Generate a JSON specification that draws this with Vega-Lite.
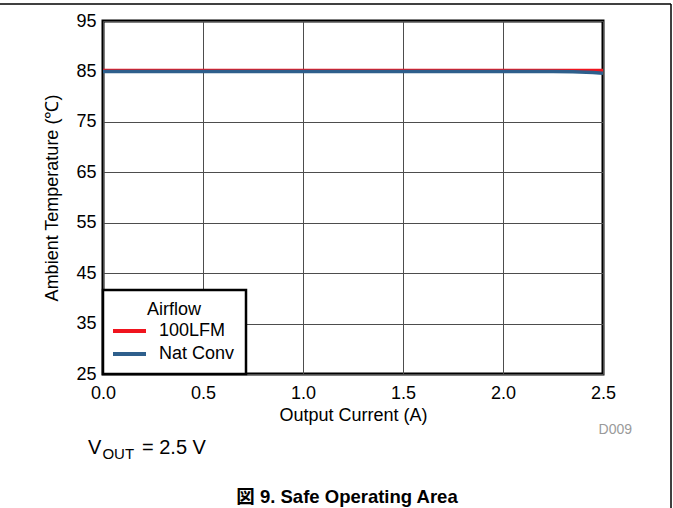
{
  "$schema": "https://vega.github.io/schema/vega-lite/v6.json",
  "width": 500,
  "height": 353,
  "autosize": {"type": "none"},
  "padding": {"left": 103, "top": 21, "right": 70, "bottom": 134},
  "background": "white",
  "config": {
    "font": "Liberation Sans",
    "view": {"stroke": "black", "strokeWidth": 3}
  },
  "datasets": {
    "curves": [
      {"current": 0.0, "temp": 85.2, "airflow": "100LFM"},
      {"current": 0.5, "temp": 85.2, "airflow": "100LFM"},
      {"current": 1.0, "temp": 85.2, "airflow": "100LFM"},
      {"current": 1.5, "temp": 85.2, "airflow": "100LFM"},
      {"current": 2.0, "temp": 85.2, "airflow": "100LFM"},
      {"current": 2.5, "temp": 85.2, "airflow": "100LFM"},
      {"current": 0.0, "temp": 85.0, "airflow": "Nat Conv"},
      {"current": 0.5, "temp": 85.0, "airflow": "Nat Conv"},
      {"current": 1.0, "temp": 85.0, "airflow": "Nat Conv"},
      {"current": 1.5, "temp": 85.0, "airflow": "Nat Conv"},
      {"current": 2.0, "temp": 85.0, "airflow": "Nat Conv"},
      {"current": 2.25, "temp": 85.0, "airflow": "Nat Conv"},
      {"current": 2.35, "temp": 84.95, "airflow": "Nat Conv"},
      {"current": 2.45, "temp": 84.8, "airflow": "Nat Conv"},
      {"current": 2.5, "temp": 84.65, "airflow": "Nat Conv"}
    ],
    "notes": [
      {"x": -0.075, "y": 9.14, "text": "V", "kind": "big"},
      {"x": -0.003, "y": 8.15, "text": "OUT", "kind": "sub"},
      {"x": 0.195, "y": 9.14, "text": "= 2.5 V", "kind": "big"}
    ],
    "tag": [
      {"x": 2.645, "y": 13.9, "text": "D009"}
    ],
    "caption": [
      {"x": 1.22, "y": -0.6, "text": "図 9. Safe Operating Area"}
    ],
    "frame": [
      {"x": -0.52, "x2": 2.84, "y": 98.37, "y2": 98.37},
      {"x": 2.84, "x2": 2.84, "y": 98.37, "y2": -2}
    ]
  },
  "layer": [
    {
      "data": {"name": "curves"},
      "mark": {"type": "line", "strokeWidth": 3.5, "clip": true},
      "encoding": {
        "x": {
          "field": "current", "type": "quantitative",
          "scale": {"domain": [0, 2.5], "nice": false, "zero": false},
          "axis": {
            "title": "Output Current (A)",
            "values": [0, 0.5, 1, 1.5, 2, 2.5],
            "format": ".1f",
            "domain": false, "ticks": false,
            "grid": true, "gridColor": "#4d4d4d", "gridWidth": 1, "gridOpacity": 1,
            "labelFontSize": 18, "labelColor": "black", "labelPadding": 10,
            "labelFlush": false,
            "titleFontSize": 18, "titleFontWeight": "normal", "titleColor": "black",
            "titlePadding": 4
          }
        },
        "y": {
          "field": "temp", "type": "quantitative",
          "scale": {"domain": [25, 95], "nice": false, "zero": false},
          "axis": {
            "title": "Ambient Temperature (℃)",
            "values": [25, 35, 45, 55, 65, 75, 85, 95],
            "domain": false, "ticks": false,
            "grid": true, "gridColor": "#4d4d4d", "gridWidth": 1, "gridOpacity": 1,
            "labelFontSize": 18, "labelColor": "black", "labelPadding": 7,
            "labelFlush": false,
            "titleFontSize": 18, "titleFontWeight": "normal", "titleColor": "black",
            "titlePadding": 14
          }
        },
        "color": {
          "field": "airflow", "type": "nominal",
          "scale": {"domain": ["100LFM", "Nat Conv"], "range": ["#f0141e", "#2e5f8c"]},
          "legend": {
            "title": "Airflow",
            "orient": "bottom-left",
            "offset": 0,
            "fillColor": "white",
            "strokeColor": "black",
            "padding": 11,
            "titleAnchor": "middle",
            "titleFontSize": 18,
            "titleFontWeight": "normal",
            "titleColor": "black",
            "titlePadding": 0,
            "labelFontSize": 18,
            "labelColor": "black",
            "labelOffset": 17.5,
            "rowPadding": 2,
            "symbolType": "M-1.65,0H1.65",
            "symbolSize": 400,
            "symbolOffset": 3.5,
            "symbolStrokeWidth": 4,
            "encode": {"legend": {"update": {"strokeWidth": {"value": 2.5}}}}
          }
        }
      }
    },
    {
      "data": {"name": "notes"},
      "mark": {"type": "text", "align": "left", "baseline": "alphabetic", "color": "black"},
      "encoding": {
        "x": {"field": "x", "type": "quantitative"},
        "y": {"field": "y", "type": "quantitative"},
        "text": {"field": "text"},
        "size": {
          "field": "kind", "type": "nominal",
          "scale": {"domain": ["big", "sub"], "range": [20, 15]},
          "legend": null
        }
      }
    },
    {
      "data": {"name": "tag"},
      "mark": {"type": "text", "align": "right", "baseline": "middle", "color": "#9a9a9a", "fontSize": 14},
      "encoding": {
        "x": {"field": "x", "type": "quantitative"},
        "y": {"field": "y", "type": "quantitative"},
        "text": {"field": "text"}
      }
    },
    {
      "data": {"name": "caption"},
      "mark": {"type": "text", "align": "center", "baseline": "alphabetic", "color": "black", "fontSize": 18.5, "fontWeight": "bold", "font": "Liberation Sans, Noto Sans CJK JP"},
      "encoding": {
        "x": {"field": "x", "type": "quantitative"},
        "y": {"field": "y", "type": "quantitative"},
        "text": {"field": "text"}
      }
    },
    {
      "data": {"name": "frame"},
      "mark": {"type": "rule", "color": "black", "strokeWidth": 1.5},
      "encoding": {
        "x": {"field": "x", "type": "quantitative"},
        "x2": {"field": "x2"},
        "y": {"field": "y", "type": "quantitative"},
        "y2": {"field": "y2"}
      }
    }
  ]
}
